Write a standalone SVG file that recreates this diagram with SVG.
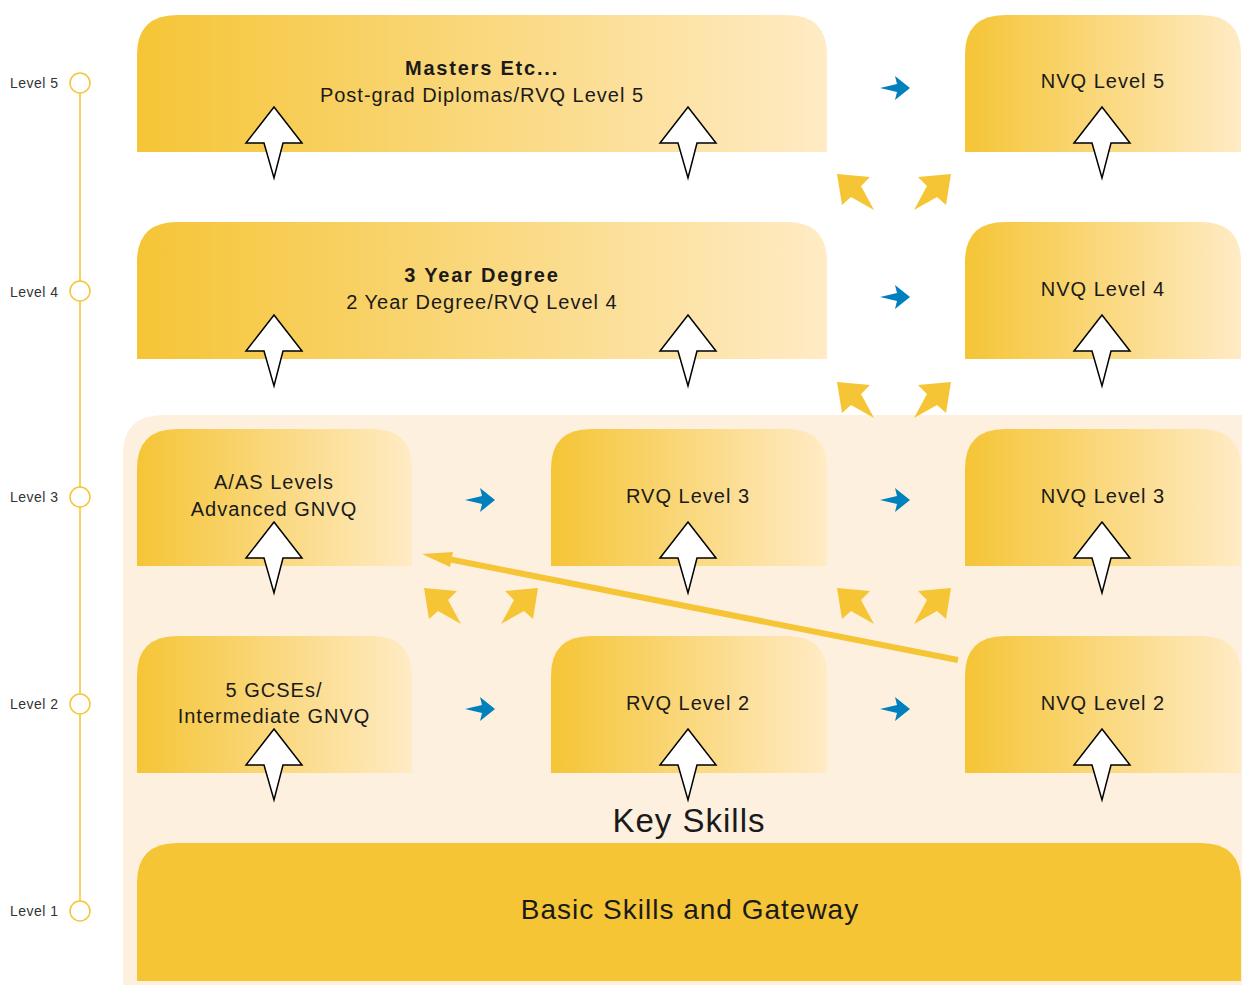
<svg xmlns="http://www.w3.org/2000/svg" xmlns:xlink="http://www.w3.org/1999/xlink" width="1242" height="985" viewBox="0 0 1242 985">
<defs>
<linearGradient id="g" x1="0" y1="0" x2="1" y2="0">
<stop offset="0" stop-color="#F5C536"/>
<stop offset="1" stop-color="#FFEBC5"/>
</linearGradient>
<path id="wa" d="M0,0 L28,36 L9,36 L0,71 L-10,36 L-28,36 Z" fill="#fff" stroke="#000" stroke-width="1.5" stroke-linejoin="miter"/>
<path id="ba" d="M30,0 L15,-12 L17,-4 L0,0 L17,4 L15,12 Z" fill="#0080BC"/>
<path id="yl" d="M837,174 L870,177 L861,186 L874,210 L851,197 L842,205 Z" fill="#F5C535"/>
<path id="yr" d="M951,174 L918,177 L927,186 L914,210 L937,197 L946,205 Z" fill="#F5C535"/>
</defs>
<style>
text{font-family:"Liberation Sans",Arial,sans-serif;fill:#1a1a1a;text-anchor:middle}
.t{font-size:20px;letter-spacing:1px}
.b{font-weight:bold;letter-spacing:1.8px}
.lv{font-size:14px;letter-spacing:0.5px;text-anchor:start;fill:#333}
.box{fill:url(#g)}
</style>
<rect width="1242" height="985" fill="#fff"/>
<path d="M123,985 L123,455 Q123,415 163,415 L1242,415 L1242,985 Z" fill="#FEF0DE"/>

<g id="levels">
<line x1="80" y1="93" x2="80" y2="901" stroke="#F5C535" stroke-width="1.5"/>
<circle cx="80" cy="83" r="10" fill="#fff" stroke="#F5C535" stroke-width="1.5"/>
<circle cx="80" cy="291" r="10" fill="#fff" stroke="#F5C535" stroke-width="1.5"/>
<circle cx="80" cy="497" r="10" fill="#fff" stroke="#F5C535" stroke-width="1.5"/>
<circle cx="80" cy="704" r="10" fill="#fff" stroke="#F5C535" stroke-width="1.5"/>
<circle cx="80" cy="911" r="10" fill="#fff" stroke="#F5C535" stroke-width="1.5"/>
<text class="lv" x="10" y="88">Level 5</text>
<text class="lv" x="10" y="297">Level 4</text>
<text class="lv" x="10" y="502">Level 3</text>
<text class="lv" x="10" y="709">Level 2</text>
<text class="lv" x="10" y="916">Level 1</text>
</g>

<g id="masters">
<path class="box" d="M137,152 L137,55 Q137,15 177,15 L787,15 Q827,15 827,55 L827,152 Z"/>
<text class="t b" x="482" y="75">Masters Etc...</text>
<text class="t" x="482" y="102">Post-grad Diplomas/RVQ Level 5</text>
<use xlink:href="#wa" x="274" y="107"/>
<use xlink:href="#wa" x="688" y="107"/>
</g>
<g id="nvq5">
<path class="box" d="M965,152 L965,55 Q965,15 1005,15 L1201,15 Q1241,15 1241,55 L1241,152 Z"/>
<text class="t" x="1103" y="88">NVQ Level 5</text>
<use xlink:href="#wa" x="1102" y="107"/>
</g>

<g id="degree">
<path class="box" d="M137,359 L137,262 Q137,222 177,222 L787,222 Q827,222 827,262 L827,359 Z"/>
<text class="t b" x="482" y="282">3 Year Degree</text>
<text class="t" x="482" y="309">2 Year Degree/RVQ Level 4</text>
<use xlink:href="#wa" x="274" y="315"/>
<use xlink:href="#wa" x="688" y="315"/>
</g>
<g id="nvq4">
<path class="box" d="M965,359 L965,262 Q965,222 1005,222 L1201,222 Q1241,222 1241,262 L1241,359 Z"/>
<text class="t" x="1103" y="296">NVQ Level 4</text>
<use xlink:href="#wa" x="1102" y="315"/>
</g>

<g id="alevels">
<path class="box" d="M137,566 L137,469 Q137,429 177,429 L372,429 Q412,429 412,469 L412,566 Z"/>
<text class="t" x="274" y="489">A/AS Levels</text>
<text class="t" x="274" y="516">Advanced GNVQ</text>
<use xlink:href="#wa" x="274" y="522"/>
</g>
<g id="rvq3">
<path class="box" d="M551,566 L551,469 Q551,429 591,429 L787,429 Q827,429 827,469 L827,566 Z"/>
<text class="t" x="688" y="503">RVQ Level 3</text>
<use xlink:href="#wa" x="688" y="522"/>
</g>
<g id="nvq3">
<path class="box" d="M965,566 L965,469 Q965,429 1005,429 L1201,429 Q1241,429 1241,469 L1241,566 Z"/>
<text class="t" x="1103" y="503">NVQ Level 3</text>
<use xlink:href="#wa" x="1102" y="522"/>
</g>

<g id="gcse">
<path class="box" d="M137,773 L137,676 Q137,636 177,636 L372,636 Q412,636 412,676 L412,773 Z"/>
<text class="t" x="274" y="697">5 GCSEs/</text>
<text class="t" x="274" y="723">Intermediate GNVQ</text>
<use xlink:href="#wa" x="274" y="729"/>
</g>
<g id="rvq2">
<path class="box" d="M551,773 L551,676 Q551,636 591,636 L787,636 Q827,636 827,676 L827,773 Z"/>
<text class="t" x="688" y="710">RVQ Level 2</text>
<use xlink:href="#wa" x="688" y="729"/>
</g>
<g id="nvq2">
<path class="box" d="M965,773 L965,676 Q965,636 1005,636 L1201,636 Q1241,636 1241,676 L1241,773 Z"/>
<text class="t" x="1103" y="710">NVQ Level 2</text>
<use xlink:href="#wa" x="1102" y="729"/>
</g>

<g id="keyskills">
<text x="689" y="832" style="font-size:33px;letter-spacing:1px">Key Skills</text>
</g>
<g id="basic">
<path d="M137,981 L137,883 Q137,843 177,843 L1201,843 Q1241,843 1241,883 L1241,981 Z" fill="#F5C535"/>
<text x="690" y="919" style="font-size:28px;letter-spacing:1px">Basic Skills and Gateway</text>
</g>

<g id="connectors">
<use xlink:href="#ba" x="880" y="88"/>
<use xlink:href="#ba" x="880" y="297"/>
<use xlink:href="#ba" x="465" y="500"/>
<use xlink:href="#ba" x="880" y="500"/>
<use xlink:href="#ba" x="465" y="709"/>
<use xlink:href="#ba" x="880" y="709"/>
<use xlink:href="#yl"/>
<use xlink:href="#yr"/>
<use xlink:href="#yl" y="208"/>
<use xlink:href="#yr" y="208"/>
<use xlink:href="#yl" y="414"/>
<use xlink:href="#yr" y="414"/>
<use xlink:href="#yl" x="-413" y="414"/>
<use xlink:href="#yr" x="-413" y="414"/>
<line x1="958" y1="660" x2="448" y2="559" stroke="#F5C535" stroke-width="6"/>
<path d="M422,554 L453,552 L450,567 Z" fill="#F5C535"/>
</g>
</svg>
